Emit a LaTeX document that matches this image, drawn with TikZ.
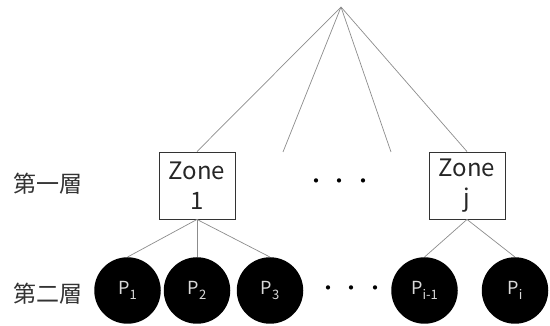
\documentclass[tikz,border=0pt]{standalone}
\usepackage{fontspec}
\setmainfont{Noto Sans CJK JP}
\newcommand{\psub}[1]{P\raisebox{-5pt}{\fontsize{13}{13}\selectfont #1}}
\newcommand{\dotgap}{\makebox[24pt]{・}}
\begin{document}
\begin{tikzpicture}[x=1pt,y=-1pt,
    % Node styles
    zone/.style={
        draw=black!80,
        line width=0.9pt,
        minimum width=76pt,
        minimum height=67pt,
        inner sep=0pt,
        align=center,
        text=black!85,
        font=\fontsize{24}{30}\selectfont
    },
    proc/.style={
        circle,
        fill=black,
        minimum size=66.5pt,
        inner sep=0pt,
        text=white!85!black,
        font=\fontsize{18}{18}\selectfont
    },
    layer/.style={
        text=black!80,
        font=\fontsize{23}{23}\selectfont
    },
    dotrow/.style={
        text=black,
        inner sep=0pt,
        font=\fontsize{20}{20}\selectfont
    },
    % Line style
    link/.style={draw=black!45, line width=0.7pt}
    ]
    \useasboundingbox (0,0) rectangle (550,326);

    % Root and first layer
    \coordinate (root) at (341,7);
    \node[zone] (zone1) at (197,185.5) {Zone\\1};
    \node[zone] (zonej) at (467,185.5) {Zone\\j};
    \coordinate (gapl) at (283,152);
    \coordinate (gapr) at (391,152);
    \node[dotrow] (dots1) at (340,184) {\dotgap\dotgap\dotgap};

    % Second layer
    \node[proc] (p1) at (127.5,290.5) {\psub{1}};
    \node[proc] (p2) at (197,290.5) {\psub{2}};
    \node[proc] (p3) at (270,290.5) {\psub{3}};
    \node[dotrow] (dots2) at (352,291) {\dotgap\dotgap\dotgap};
    \node[proc] (pim) at (424.5,290.5) {\psub{i-1}};
    \node[proc] (pi) at (515,290.5) {\psub{i}};

    % Layer labels
    \node[layer] (lab1) at (47.5,184) {第一層};
    \node[layer] (lab2) at (47.5,294) {第二層};

    % Lines from the root
    \draw[link] (root) -- (zone1.north);
    \draw[link] (root) -- (gapl);
    \draw[link] (root) -- (gapr);
    \draw[link] (root) -- (zonej.north);

    % Lines from the zones
    \draw[link] (zone1.south) -- (p1.north);
    \draw[link] (zone1.south) -- (p2.north);
    \draw[link] (zone1.south) -- (p3.north);
    \draw[link] (zonej.south) -- (pim.north);
    \draw[link] (zonej.south) -- (pi.north);

\end{tikzpicture}
\end{document}
